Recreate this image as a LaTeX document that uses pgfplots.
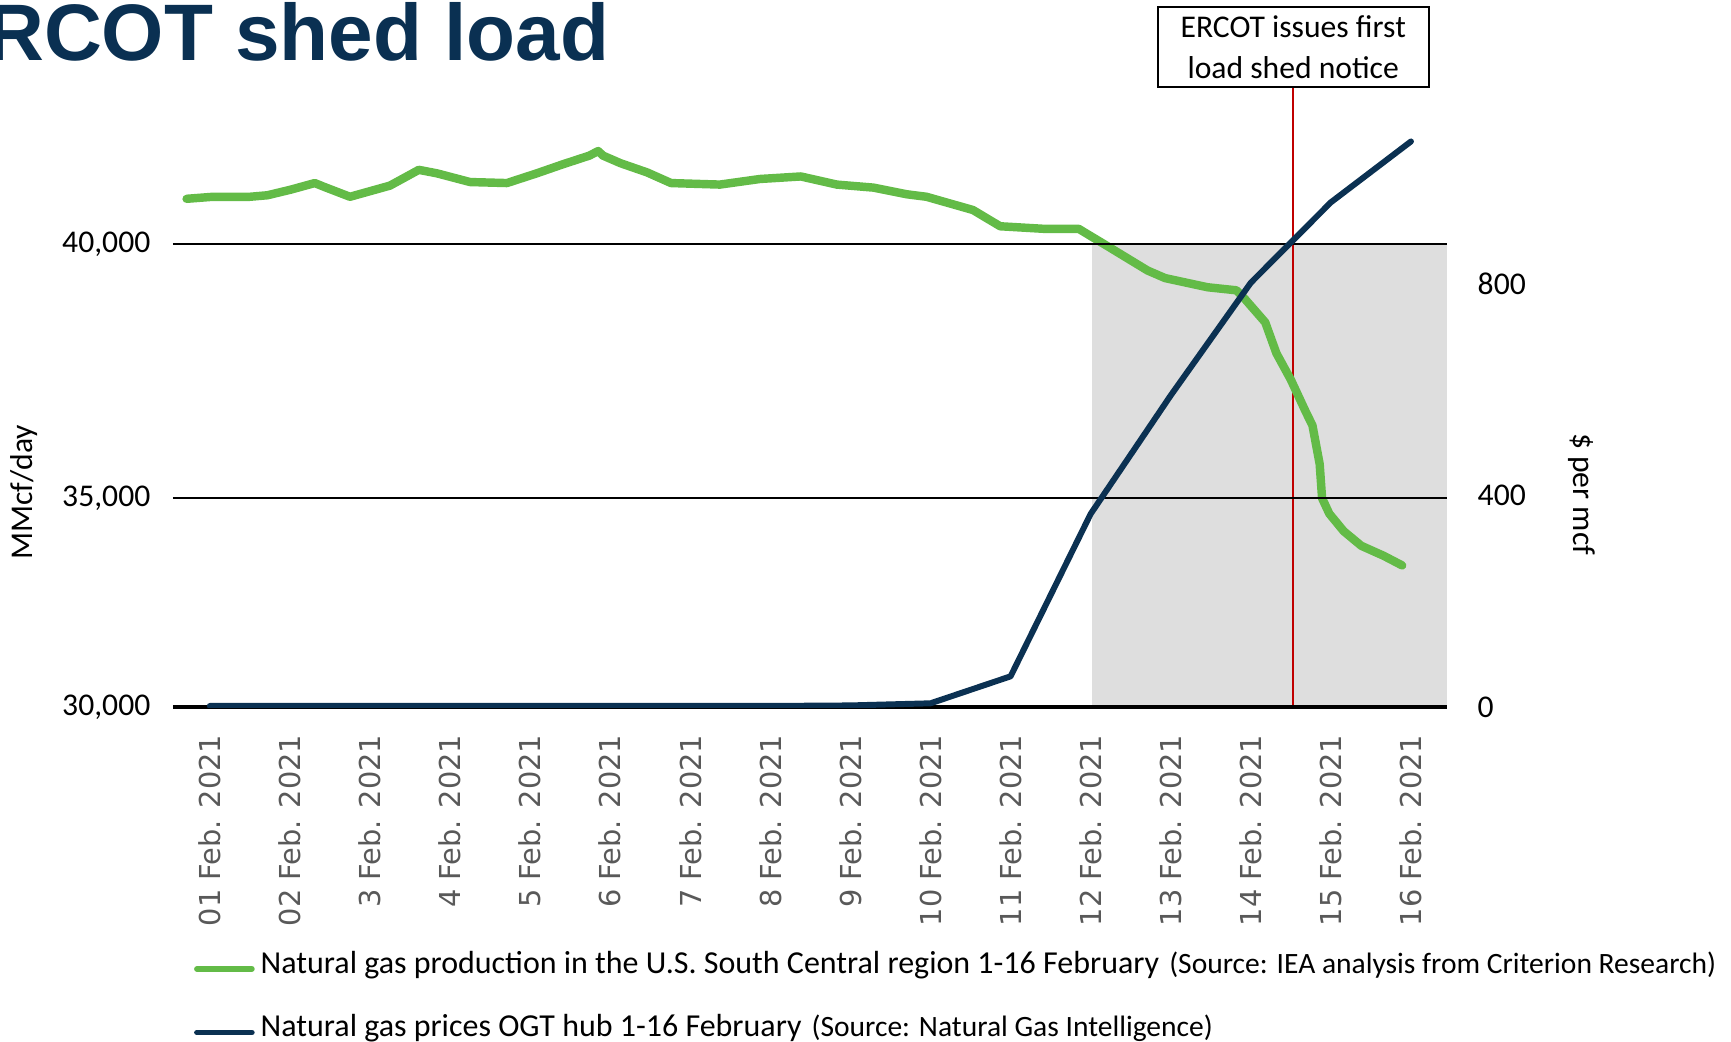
\documentclass[border=0pt]{standalone}
\usepackage{fontspec}
\setmainfont{Carlito}
\newfontfamily\tickfont{DejaVu Sans}
\newfontfamily\titlefont{Liberation Sans}
\usepackage{pgfplots}
\usepackage{pgfplotstable}
\pgfplotsset{compat=1.18}

\definecolor{prodgreen}{RGB}{99,187,71}
\definecolor{pricenavy}{RGB}{11,49,82}
\definecolor{titlenavy}{RGB}{10,48,82}
\definecolor{shedgray}{RGB}{222,222,222}
\definecolor{ercotred}{RGB}{192,0,0}
\definecolor{ticktext}{RGB}{89,89,89}

% production, thousand MMcf/day, x = day of February
\pgfplotstableread{
day prod
0.71 40.89
1.04 40.93
1.50 40.93
1.72 40.96
2.01 41.07
2.31 41.20
2.42 41.13
2.75 40.93
3.25 41.15
3.61 41.46
3.84 41.39
4.25 41.22
4.71 41.20
5.08 41.39
5.41 41.57
5.74 41.74
5.85 41.83
5.91 41.74
6.13 41.59
6.46 41.41
6.76 41.20
7.37 41.17
7.87 41.28
8.38 41.33
8.83 41.17
9.29 41.11
9.70 40.98
9.95 40.93
10.53 40.67
10.87 40.35
11.41 40.30
11.85 40.30
12.24 39.93
12.71 39.48
12.93 39.33
13.46 39.15
13.82 39.09
13.92 38.93
14.18 38.46
14.32 37.85
14.50 37.33
14.68 36.72
14.77 36.43
14.86 35.67
14.89 35.00
14.98 34.63
15.16 34.21
15.38 33.86
15.66 33.62
15.89 33.39
}\prodtable

% OGT hub price, $ per mcf
\pgfplotstableread{
day price
1 2
2 2
3 2
4 2
5 2
6 2
7 2
8 2
9 3
10 7
11 58
12 365
13 589
14 802
15 954
16 1069
}\pricetable

\begin{document}
\begin{tikzpicture}
\pgfplotsset{
  every axis/.append style={
    scale only axis, width=127.4mm, height=61.9mm,
    at={(17.3mm,-70.7mm)}, anchor=south west,
    xmin=0.54, xmax=16.45,
  },
}
% left axis: production (upper part of the scale is stretched as in the source)
\begin{axis}[
  y coord trafo/.code={\pgfmathparse{#1<=35 ? #1 : 35+(#1-35)*1.217}},
  ymin=30, ymax=43.07,
  clip=false,
  axis on top,
  axis x line*=bottom,
  axis y line*=left,
  y axis line style={draw=none},
  x axis line style={line width=0.9pt},
  xtick={1,...,16},
  xticklabels={01 Feb. 2021,02 Feb. 2021,3 Feb. 2021,4 Feb. 2021,5 Feb. 2021,6 Feb. 2021,7 Feb. 2021,8 Feb. 2021,9 Feb. 2021,10 Feb. 2021,11 Feb. 2021,12 Feb. 2021,13 Feb. 2021,14 Feb. 2021,15 Feb. 2021,16 Feb. 2021},
  xtick style={draw=none},
  xticklabel style={font=\tickfont\fontsize{8.2}{9}\selectfont, text=ticktext, rotate=90, anchor=east, inner sep=0pt},
  xticklabel shift=2.7mm,
  ytick={30,35,40},
  yticklabels={{30,000},{35,000},{40,000}},
  ytick style={draw=none},
  yticklabel style={font=\fontsize{9}{10}\selectfont, inner sep=0pt, anchor=east},
  yticklabel shift=2.2mm,
  ymajorgrids,
  grid style={black, line width=0.45pt},
  ylabel={MMcf/day},
  ylabel style={font=\fontsize{9}{10}\selectfont, at={(axis description cs:-0.117,0.347)}, anchor=center},
]
\addplot[draw=none, fill=shedgray] coordinates {(12.02,30) (16.45,30) (16.45,40) (12.02,40)} -- cycle;
\addplot[ercotred, line width=0.65pt] coordinates {(14.53,30) (14.53,43.07)};
\addplot[prodgreen, line width=2.4pt, line cap=round, line join=round] table[x=day, y=prod] {\prodtable};
\node[draw=black, line width=0.55pt, fill=white, anchor=south, minimum width=27.1mm, minimum height=8mm,
  align=center, inner sep=0pt, font=\fontsize{9}{11.7}\selectfont]
  at (rel axis cs:0.8793,1) {ERCOT issues first\\load shed notice};
\end{axis}

% right axis: price
\begin{axis}[
  ymin=0, ymax=1170,
  axis x line=none,
  axis y line*=right,
  y axis line style={draw=none},
  ytick={0,400,800},
  yticklabels={0,400,800},
  ytick style={draw=none},
  yticklabel style={font=\fontsize{9}{10}\selectfont, inner sep=0pt, anchor=west},
  yticklabel shift=3mm,
  ylabel={\$ per mcf},
  ylabel style={font=\fontsize{9}{10}\selectfont, at={(axis description cs:1.106,0.344)}, anchor=center, rotate=180},
  legend style={at={(0.0160,-0.382)}, anchor=north west, draw=none, fill=none, inner sep=0pt,
    row sep=2.2mm, font=\fontsize{9.1}{10.8}\selectfont, nodes={inner xsep=0.6mm}},
  legend cell align=left,
  legend image code/.code={\draw[#1, line width=1.6pt, line cap=round] (0mm,-0.4mm) -- (5.5mm,-0.4mm);},
]
\addlegendimage{prodgreen}
\addlegendentry{Natural gas production in the U.S. South Central region 1-16 February\hspace{1mm}{\fontsize{8.4}{10}\selectfont(Source: IEA analysis from Criterion Research)}}
\addplot[pricenavy, line width=1.7pt, line cap=round, line join=round] table[x=day, y=price] {\pricetable};
\addlegendentry{Natural gas prices OGT hub 1-16 February\hspace{1mm}{\fontsize{8.4}{10}\selectfont(Source: Natural Gas Intelligence)}}
\end{axis}

\node[anchor=base west, inner sep=0pt, text=titlenavy, font=\titlefont\bfseries\fontsize{22.8}{24}\selectfont]
  at (-6.8mm,-6.0mm) {ERCOT shed load};

\pgfresetboundingbox
\path[use as bounding box] (0,0) rectangle (173.1mm,-104.1mm);
\end{tikzpicture}
\end{document}
